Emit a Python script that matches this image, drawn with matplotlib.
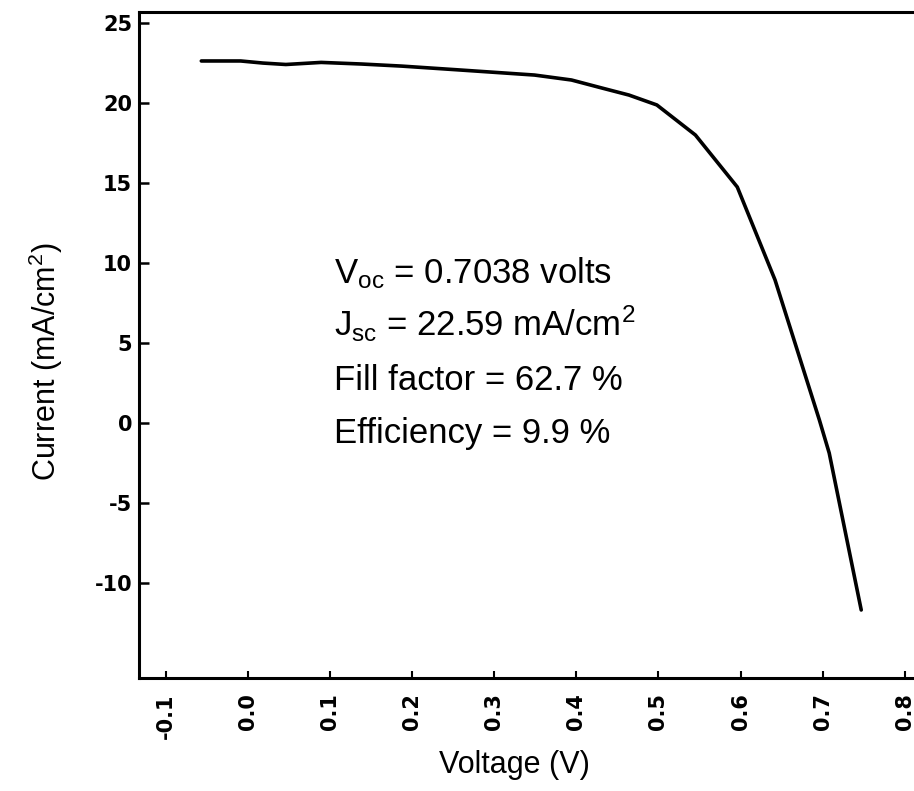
import matplotlib.pyplot as plt

plt.rcParams['font.family'] = ['Liberation Sans', 'DejaVu Sans']
plt.rcParams['mathtext.default'] = 'regular'

# J-V curve of the cell under illumination
voltage = [-0.057, -0.009, 0.018, 0.046, 0.089, 0.138, 0.187, 0.260, 0.349,
           0.394, 0.431, 0.464, 0.498, 0.545, 0.596, 0.642, 0.696, 0.708, 0.747]
current = [22.63, 22.63, 22.50, 22.41, 22.54, 22.44, 22.31, 22.06, 21.75,
           21.44, 20.94, 20.50, 19.88, 18.00, 14.75, 8.94, 0.19, -1.88, -11.69]

xticks = [-0.1, 0.0, 0.1, 0.2, 0.3, 0.4, 0.5, 0.6, 0.7, 0.8]
xticklabels = ['-0.1', '0.0', '0.1', '0.2', '0.3', '0.4', '0.5', '0.6', '0.7', '0.8']
yticks = [-10, -5, 0, 5, 10, 15, 20, 25]
yticklabels = ['-10', '-5', '0', '5', '10', '15', '20', '25']

summary = [r'$V_{oc}$ = 0.7038 volts',
           r'$J_{sc}$ = 22.59 mA/cm$^2$',
           'Fill factor = 62.7 %',
           'Efficiency = 9.9 %']
summary_y = [8.75, 5.44, 2.06, -1.25]

fig = plt.figure(figsize=(9.14, 7.91), dpi=100)
ax = fig.add_axes([0.1521, 0.1429, 0.8479, 0.8419])

ax.plot(voltage, current, color='black', linewidth=2.6, solid_capstyle='round')

ax.set_xlim(-0.1329, 0.8113)
ax.set_ylim(-15.94, 25.69)

ax.set_xticks(xticks)
ax.set_xticklabels(xticklabels, rotation=90, fontsize=15, fontweight='bold',
                   family='DejaVu Sans')
ax.set_yticks(yticks)
ax.set_yticklabels(yticklabels, fontsize=15, fontweight='bold', family='DejaVu Sans')
ax.tick_params(axis='x', direction='in', length=5, width=1.5, pad=11)
ax.tick_params(axis='y', direction='in', length=7, width=1.8, pad=5)

ax.spines['right'].set_visible(False)
for side in ['left', 'bottom', 'top']:
    ax.spines[side].set_linewidth(2.2)

for txt, yy in zip(summary, summary_y):
    ax.text(0.105, yy, txt, fontsize=25, va='baseline', ha='left')

fig.text(46 / 914, 1 - 362 / 791, 'Current (mA/cm$^2$)', rotation=90,
         fontsize=22, ha='center', va='center')
fig.text(514 / 914, 1 - 765 / 791, 'Voltage (V)', fontsize=22,
         ha='center', va='center')

fig.savefig('out.png', dpi=100)
